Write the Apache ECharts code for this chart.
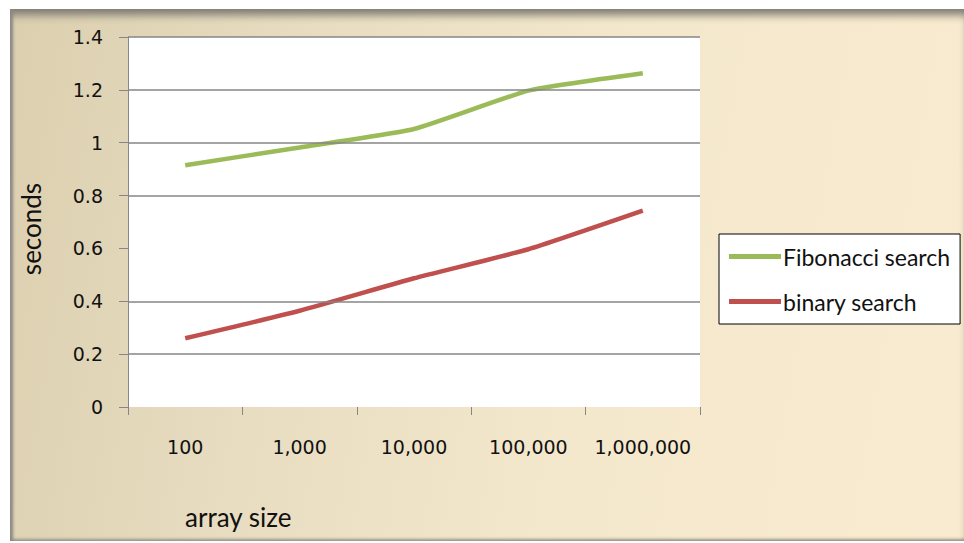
<!DOCTYPE html>
<html>
<head>
<meta charset="utf-8">
<script src="https://cdn.jsdelivr.net/npm/echarts@6/dist/echarts.min.js"></script>
<style>
  html, body { margin: 0; padding: 0; background: #ffffff; width: 964px; height: 543px; overflow: hidden; }
  #frame {
    position: absolute; left: 10px; top: 9px; width: 954px; height: 532px;
    background: linear-gradient(100deg, #dbcfaf 0%, #e8ddc1 30%, #f4e8cc 60%, #f9ebcf 100%);
    box-shadow: inset 4px 0 3px -1px #8a8a84, inset 0 10px 8px -4px #7d7a72, inset 0 -4px 3px -2px #9a968a;
  }
  #chart { position: absolute; left: 0; top: 0; width: 964px; height: 543px; }
</style>
</head>
<body>
<div id="frame"></div>
<div id="chart"></div>
<script>
const categories = ['100', '1,000', '10,000', '100,000', '1,000,000'];
const fibonacciSearch = [0.915, 0.982, 1.052, 1.197, 1.263];
const binarySearch = [0.26, 0.364, 0.487, 0.597, 0.743];
const yTicks = { min: 0, max: 1.4, interval: 0.2 };
// gridlines visible in the reference (the 0 and 0.6 lines are not drawn there)
const gridlineValues = [0.2, 0.4, 0.8, 1.0, 1.2, 1.4];

const grey = '#868686';

const chart = echarts.init(document.getElementById('chart'), null, { renderer: 'svg' });
chart.setOption({
  backgroundColor: 'transparent',
  animation: false,
  textStyle: { fontFamily: 'DejaVu Sans' },
  grid: {
    left: 128, right: 264, top: 37, bottom: 136,
    show: true, backgroundColor: '#ffffff', borderWidth: 0
  },
  legend: {
    orient: 'vertical',
    left: 719, top: 234,
    width: 244,
    backgroundColor: '#ffffff',
    borderColor: '#000000', borderWidth: 1, borderRadius: 0,
    padding: [11, 10, 11, 10],
    itemWidth: 52, itemHeight: 5, itemGap: 22,
    icon: 'rect',
    textStyle: { fontFamily: 'Lato', fontSize: 23, color: '#111', padding: [0, 0, 0, -3] },
    data: ['Fibonacci search', 'binary search']
  },
  xAxis: {
    type: 'category',
    data: categories,
    boundaryGap: true,
    axisLine: { show: false },
    axisTick: { show: true, interval: 0, length: 8, lineStyle: { color: grey } },
    axisLabel: { interval: 0, margin: 30, fontSize: 19, color: '#111', fontFamily: 'DejaVu Sans' },
    splitLine: { show: false }
  },
  yAxis: {
    type: 'value',
    min: yTicks.min, max: yTicks.max, interval: yTicks.interval,
    name: 'seconds',
    nameLocation: 'middle',
    nameGap: 84,
    nameRotate: 90,
    nameTextStyle: { fontFamily: 'Lato', fontSize: 26, color: '#111', padding: [0, 14, 0, 0] },
    axisLine: { show: true, lineStyle: { color: grey, width: 1 } },
    axisTick: { show: true, length: 9, lineStyle: { color: grey } },
    axisLabel: { margin: 25, fontSize: 19, color: '#111', fontFamily: 'DejaVu Sans' },
    splitLine: { show: false }
  },
  graphic: [{
    type: 'text', left: 185, top: 504,
    style: { text: 'array size', font: '26px Lato', fill: '#111' }
  }],
  series: [{
    name: 'gridlines', type: 'line', data: [], z: 1, silent: true,
    markLine: {
      silent: true, symbol: 'none', animation: false,
      label: { show: false },
      lineStyle: { color: grey, width: 1.5, type: 'solid' },
      data: gridlineValues.map(v => ({ yAxis: v }))
    }
  }, {
    name: 'Fibonacci search', type: 'line', data: fibonacciSearch, z: 3,
    smooth: 0.15, symbol: 'none',
    lineStyle: { color: '#9bbb59', width: 4.5 }, itemStyle: { color: '#9bbb59' }
  }, {
    name: 'binary search', type: 'line', data: binarySearch, z: 3,
    smooth: 0.15, symbol: 'none',
    lineStyle: { color: '#c0504d', width: 4.5 }, itemStyle: { color: '#c0504d' }
  }]
});
</script>
</body>
</html>
